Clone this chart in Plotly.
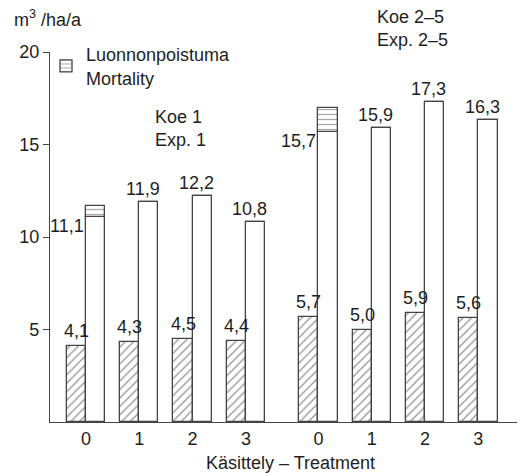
import plotly.graph_objects as go

# Data
categories = ["0", "1", "2", "3", "0", "1", "2", "3"]
group_offset = [0, 1, 2, 3, 4.36, 5.36, 6.36, 7.36]  # category slots on x-axis
hatched_vals = [4.1, 4.3, 4.5, 4.4, 5.7, 5.0, 5.9, 5.6]
white_vals = [11.1, 11.9, 12.2, 10.8, 15.7, 15.9, 17.3, 16.3]
mortality_vals = [0.6, 0, 0, 0, 1.3, 0, 0, 0]
y_ticks = [5, 10, 15, 20]

FONT = "Liberation Sans, Arial, Helvetica, sans-serif"
INK = "#1e1e1e"
LINE = "#444444"
BW = 0.36
FS = 18

def fmt(v):
    return f"{v:.1f}".replace(".", ",")

# plot-area pixel geometry (for paper-coordinate annotations)
L, R, T, B = 50, 13, 52, 54
W, H = 530, 476
PW, PH = W - L - R, H - T - B

def px(x):
    return (x - L) / PW

def py(y):
    return (H - B - y) / PH

fig = go.Figure()

fig.add_trace(go.Bar(
    x=[c - BW / 2 for c in group_offset], y=hatched_vals, width=BW,
    marker=dict(color="white", line=dict(color=LINE, width=1.3),
                pattern=dict(shape="/", fgcolor="#222", bgcolor="white", size=6, solidity=0.2)),
    showlegend=False, hoverinfo="skip"))

fig.add_trace(go.Bar(
    x=[c + BW / 2 for c in group_offset], y=white_vals, width=BW,
    marker=dict(color="white", line=dict(color=LINE, width=1.3)),
    showlegend=False, hoverinfo="skip"))

fig.add_trace(go.Bar(
    x=[c + BW / 2 for c in group_offset], y=mortality_vals, base=white_vals, width=BW,
    marker=dict(color="white", line=dict(color=LINE, width=1.3),
                pattern=dict(shape="-", fgcolor="#555", bgcolor="white", size=5, solidity=0.25)),
    name="Luonnonpoistuma<br>Mortality", showlegend=True, hoverinfo="skip"))

annotations = []
for c, hv, wv, mv in zip(group_offset, hatched_vals, white_vals, mortality_vals):
    annotations.append(dict(x=c - BW / 2, y=hv, text=fmt(hv), showarrow=False,
                            xanchor="center", yanchor="bottom", yshift=3,
                            font=dict(size=FS, color=INK, family=FONT)))
    if mv > 0:
        annotations.append(dict(x=c, y=wv, text=fmt(wv), showarrow=False,
                                xanchor="right", yanchor="top", yshift=3,
                                font=dict(size=FS, color=INK, family=FONT)))
    else:
        annotations.append(dict(x=c + 0.07, y=wv, text=fmt(wv), showarrow=False,
                                xanchor="center", yanchor="bottom", yshift=1,
                                font=dict(size=FS, color=INK, family=FONT)))

annotations += [
    dict(xref="paper", yref="paper", x=px(12), y=py(5), text="m<sup>3</sup> /ha/a",
         showarrow=False, xanchor="left", yanchor="top", font=dict(size=FS, color=INK, family=FONT)),
    dict(xref="paper", yref="paper", x=px(153), y=py(105), text="Koe 1<br>Exp. 1", align="left",
         showarrow=False, xanchor="left", yanchor="top", font=dict(size=FS, color=INK, family=FONT)),
    dict(xref="paper", yref="paper", x=px(375), y=py(5), text="Koe 2–5<br>Exp. 2–5", align="left",
         showarrow=False, xanchor="left", yanchor="top", font=dict(size=FS, color=INK, family=FONT)),
    dict(xref="paper", yref="paper", x=px(290), y=py(463), text="Käsittely – Treatment",
         showarrow=False, xanchor="center", yanchor="middle", font=dict(size=FS, color=INK, family=FONT)),
]

fig.update_layout(
    width=W, height=H,
    margin=dict(l=L, r=R, t=T, b=B),
    paper_bgcolor="white", plot_bgcolor="white",
    barmode="overlay", bargap=0,
    font=dict(family=FONT, size=FS, color=INK),
    annotations=annotations,
    legend=dict(x=px(46), y=py(36), xanchor="left", yanchor="top",
                bgcolor="rgba(0,0,0,0)", font=dict(size=FS, color=INK, family=FONT),
                itemwidth=30, tracegroupgap=0),
)
fig.update_xaxes(range=[-0.675, 8.085], tickvals=group_offset, ticktext=categories,
                 showgrid=False, zeroline=False, showline=True, linecolor=LINE, linewidth=1.3,
                 ticks="", tickfont=dict(size=FS, color=INK, family=FONT))
fig.update_yaxes(range=[0, 20], tickvals=y_ticks, showgrid=False, zeroline=False,
                 showline=True, linecolor=LINE, linewidth=1.3, ticks="outside", ticklen=6,
                 tickcolor=LINE, tickfont=dict(size=FS, color=INK, family=FONT))

fig.write_html("out.html")
